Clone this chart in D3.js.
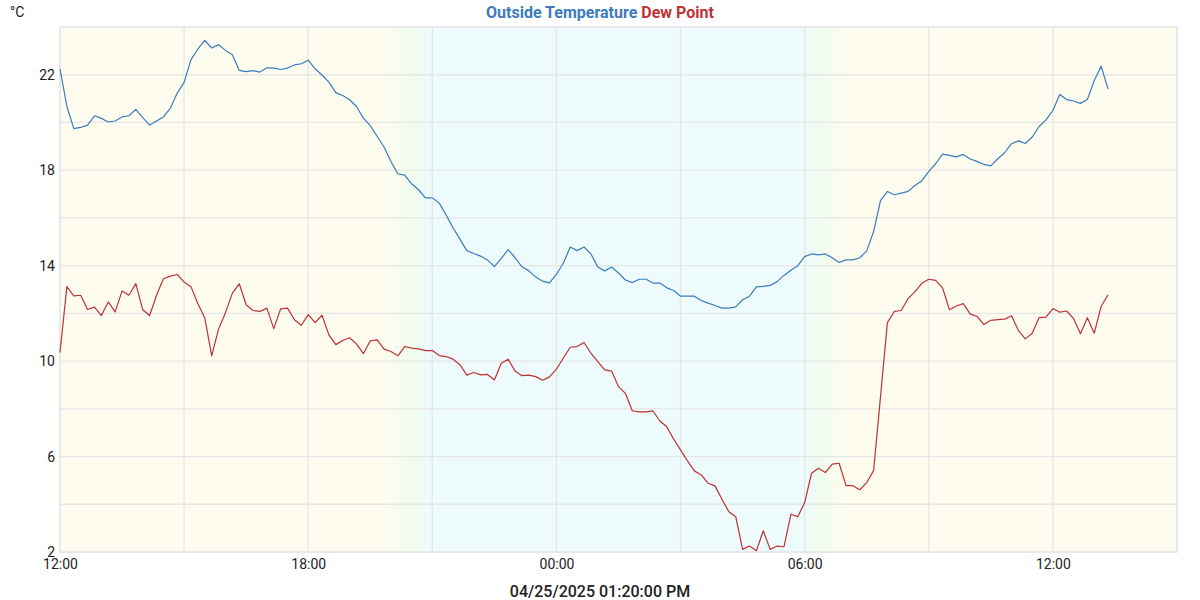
<!DOCTYPE html>
<html>
<head>
<meta charset="utf-8">
<script src="https://cdn.jsdelivr.net/npm/d3@7"></script>
<style>
  html, body { margin: 0; padding: 0; background: #ffffff; }
  svg { display: block; font-family: Roboto, "Noto Sans", sans-serif; }
</style>
</head>
<body>
<svg id="chart" width="1200" height="600"></svg>
<script>
// ---- DATA ----
const seriesNames = ["Outside Temperature", "Dew Point"];
const startTime = "2025-04-24T12:00:00";
const endTime = "2025-04-25T15:00:00";
const stepMinutes = 10;
const yTickLabels = [2, 6, 10, 14, 18, 22];
const xTickLabels = ["12:00", "18:00", "00:00", "06:00", "12:00"];
const xAxisTitle = "04/25/2025 01:20:00 PM";
const yUnit = "°C";

const outsideTemp = [
  22.24, 20.67, 19.74, 19.79, 19.89, 20.28, 20.17, 20.02, 20.06, 20.23,
  20.28, 20.55, 20.20, 19.89, 20.06, 20.23, 20.60, 21.23, 21.68, 22.63,
  23.08, 23.44, 23.12, 23.26, 23.02, 22.84, 22.18, 22.13, 22.17, 22.11,
  22.29, 22.28, 22.22, 22.28, 22.41, 22.46, 22.61, 22.25, 21.99, 21.69,
  21.25, 21.13, 20.95, 20.67, 20.18, 19.87, 19.41, 18.97, 18.36, 17.85,
  17.79, 17.43, 17.18, 16.84, 16.84, 16.62, 16.12, 15.59, 15.11, 14.63,
  14.51, 14.40, 14.24, 13.96, 14.30, 14.67, 14.33, 13.95, 13.78, 13.52,
  13.35, 13.28, 13.64, 14.10, 14.78, 14.63, 14.78, 14.49, 13.94, 13.78,
  13.94, 13.69, 13.40, 13.29, 13.43, 13.43, 13.27, 13.27, 13.07, 12.96,
  12.72, 12.72, 12.72, 12.54, 12.43, 12.33, 12.22, 12.22, 12.27, 12.57,
  12.72, 13.11, 13.13, 13.17, 13.33, 13.59, 13.81, 14.00, 14.38, 14.49,
  14.45, 14.49, 14.33, 14.13, 14.24, 14.24, 14.33, 14.62, 15.43, 16.72,
  17.11, 16.97, 17.04, 17.11, 17.36, 17.56, 17.95, 18.27, 18.67, 18.62,
  18.56, 18.66, 18.47, 18.37, 18.24, 18.18, 18.48, 18.73, 19.11, 19.23,
  19.12, 19.39, 19.83, 20.11, 20.50, 21.17, 20.96, 20.90, 20.80, 20.96,
  21.76, 22.35, 21.40
];

const dewPoint = [
  10.36, 13.12, 12.73, 12.76, 12.16, 12.26, 11.91, 12.48, 12.06, 12.94,
  12.76, 13.25, 12.15, 11.91, 12.76, 13.45, 13.56, 13.63, 13.31, 13.12,
  12.40, 11.81, 10.22, 11.35, 12.03, 12.85, 13.24, 12.36, 12.12, 12.08,
  12.22, 11.36, 12.19, 12.22, 11.73, 11.50, 11.95, 11.61, 11.92, 11.10,
  10.69, 10.86, 10.98, 10.72, 10.31, 10.85, 10.89, 10.50, 10.40, 10.22,
  10.61, 10.54, 10.51, 10.44, 10.44, 10.23, 10.19, 10.08, 9.85, 9.41,
  9.52, 9.42, 9.44, 9.21, 9.91, 10.08, 9.58, 9.39, 9.41, 9.35,
  9.20, 9.34, 9.66, 10.13, 10.58, 10.61, 10.78, 10.33, 9.98, 9.63,
  9.58, 8.93, 8.65, 7.92, 7.87, 7.87, 7.91, 7.49, 7.25, 6.73,
  6.28, 5.82, 5.40, 5.23, 4.88, 4.77, 4.21, 3.69, 3.48, 2.11,
  2.25, 2.05, 2.89, 2.11, 2.25, 2.22, 3.58, 3.48, 4.07, 5.30,
  5.51, 5.33, 5.68, 5.72, 4.78, 4.78, 4.61, 4.91, 5.41, 8.51,
  11.61, 12.08, 12.12, 12.62, 12.91, 13.26, 13.43, 13.38, 13.07, 12.15,
  12.31, 12.41, 11.98, 11.87, 11.53, 11.71, 11.74, 11.76, 11.90, 11.28,
  10.93, 11.17, 11.82, 11.84, 12.20, 12.05, 12.10, 11.78, 11.15, 11.82,
  11.17, 12.29, 12.78
];

// day/night shading (times of dusk/dawn)
const nightPhases = [
  { time: "2025-04-24T19:50:00", phase: "day" },
  { time: "2025-04-24T20:30:00", phase: "twilight" },
  { time: "2025-04-24T21:00:00", phase: "night" },
  { time: "2025-04-25T06:00:00", phase: "night" },
  { time: "2025-04-25T06:25:00", phase: "twilight" },
  { time: "2025-04-25T07:00:00", phase: "day" }
];

// ---- STYLE / LAYOUT ----
const colors = { temp: "#3b7cbd", dew: "#bf3236", grid: "#e6e6e6", text: "#222222",
  day: "#fdfcef", twilight: "#f0fcee", night: "#edfbfc" };
const W = 1200, H = 600;
const margin = { top: 27, right: 23, bottom: 48, left: 60 };
const iw = W - margin.left - margin.right;
const ih = H - margin.top - margin.bottom;

const parse = d3.isoParse;
const t0 = parse(startTime), t1 = parse(endTime);
const times = outsideTemp.map((_, i) => d3.timeMinute.offset(t0, i * stepMinutes));

const x = d3.scaleTime().domain([t0, t1]).range([0, iw]);
const y = d3.scaleLinear().domain([2, 24]).range([ih, 0]);

const svg = d3.select("#chart");
const defs = svg.append("defs");
const grad = defs.append("linearGradient").attr("id", "bg")
  .attr("gradientUnits", "userSpaceOnUse")
  .attr("x1", 0).attr("x2", iw).attr("y1", 0).attr("y2", 0);
grad.append("stop").attr("offset", 0).attr("stop-color", colors.day);
nightPhases.forEach(p => {
  grad.append("stop").attr("offset", x(parse(p.time)) / iw).attr("stop-color", colors[p.phase]);
});
grad.append("stop").attr("offset", 1).attr("stop-color", colors.day);

const g = svg.append("g").attr("transform", `translate(${margin.left},${margin.top})`);

g.append("rect").attr("width", iw).attr("height", ih).attr("fill", "url(#bg)");

// horizontal grid every 2
const yGrid = d3.range(2, 25, 2);
g.append("g").selectAll("line").data(yGrid).join("line")
  .attr("x1", 0).attr("x2", iw)
  .attr("y1", d => y(d)).attr("y2", d => y(d))
  .attr("stroke", colors.grid).attr("stroke-width", 1.3);

// vertical grid every 3 hours
const xGrid = d3.timeHour.every(3).range(t0, d3.timeMinute.offset(t1, 1));
g.append("g").selectAll("line").data(xGrid).join("line")
  .attr("x1", d => x(d)).attr("x2", d => x(d))
  .attr("y1", 0).attr("y2", ih)
  .attr("stroke", colors.grid).attr("stroke-width", 1.3);

// frame
g.append("rect").attr("width", iw).attr("height", ih)
  .attr("fill", "none").attr("stroke", colors.grid).attr("stroke-width", 1.3);

// lines
const line = d3.line().x((d, i) => x(times[i])).y(d => y(d));
g.append("path").datum(outsideTemp).attr("d", line)
  .attr("fill", "none").attr("stroke", colors.temp).attr("stroke-width", 1.2)
  .attr("stroke-linejoin", "round");
g.append("path").datum(dewPoint).attr("d", line)
  .attr("fill", "none").attr("stroke", colors.dew).attr("stroke-width", 1.2)
  .attr("stroke-linejoin", "round");

// y axis labels
const yAxis = d3.axisLeft(y).tickValues(yTickLabels).tickSize(0).tickPadding(5).tickFormat(d3.format("d"));
const ya = g.append("g").call(yAxis);
ya.select(".domain").remove();
ya.selectAll("text").attr("font-size", 14).attr("fill", colors.text)
  .attr("font-family", "Roboto, sans-serif");

// x axis labels
const xTicks = d3.timeHour.every(6).range(t0, t1);
const xAxis = d3.axisBottom(x).tickValues(xTicks).tickSize(0).tickPadding(7)
  .tickFormat((d, i) => xTickLabels[i]);
const xa = g.append("g").attr("transform", `translate(0,${ih})`).call(xAxis);
xa.select(".domain").remove();
xa.selectAll("text").attr("font-size", 14).attr("fill", colors.text)
  .attr("font-family", "Roboto, sans-serif");

// x axis title
svg.append("text").attr("x", 600).attr("y", 597)
  .attr("text-anchor", "middle").attr("font-size", 16).attr("font-weight", 500)
  .attr("fill", colors.text).text(xAxisTitle);

// unit label
svg.append("text").attr("x", 10).attr("y", 17).attr("font-size", 14)
  .attr("fill", colors.text).text(yUnit);

// title (legend)
const title = svg.append("text").attr("x", 600).attr("y", 17.5)
  .attr("text-anchor", "middle").attr("font-size", 16).attr("font-weight", "bold");
title.append("tspan").attr("fill", colors.temp).text(seriesNames[0]);
title.append("tspan").attr("fill", colors.dew).text(" " + seriesNames[1]);
</script>
</body>
</html>
